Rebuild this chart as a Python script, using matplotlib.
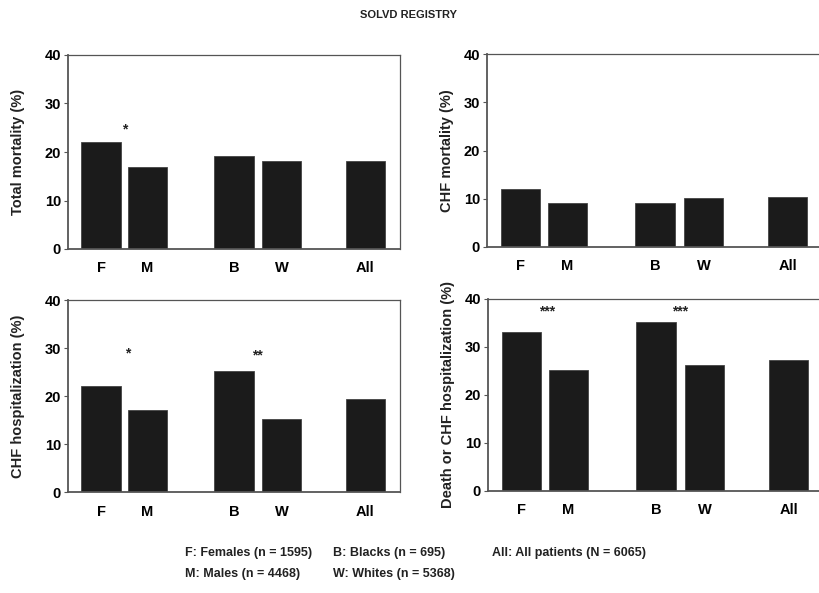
import numpy as np
import matplotlib.pyplot as plt

plt.rcParams['font.family'] = ['Liberation Sans', 'DejaVu Sans']
plt.rcParams['font.weight'] = 'bold'

# ==========================================
# DATA
# ==========================================
groups = ['F', 'M', 'B', 'W', 'All']
total_mortality = [22, 17, 19.1, 18.1, 18.1]
chf_mortality = [12.0, 9.1, 9.1, 10.2, 10.3]
chf_hosp = [22.0, 17.1, 25.3, 15.2, 19.4]
death_or_hosp = [33.1, 25.2, 35.2, 26.2, 27.2]

panel_labels = ['Total mortality (%)', 'CHF mortality (%)',
                'CHF hospitalization (%)', 'Death or CHF hospitalization (%)']
panel_values = [total_mortality, chf_mortality, chf_hosp, death_or_hosp]

# significance marks: (panel index, x position, y value, text)
sig_marks = [
    (0, 0.52, 24.6, '*'),
    (2, 0.58, 28.8, '*'),
    (2, 3.37, 28.4, '**'),
    (3, 0.55, 37.5, '***'),
    (3, 3.38, 37.5, '***'),
]

legend_rows = [
    ['F: Females (n = 1595)', 'B: Blacks (n = 695)', 'All: All patients (N = 6065)'],
    ['M: Males (n = 4468)', 'W: Whites (n = 5368)', ''],
]

# ==========================================
# LAYOUT
# ==========================================
W, H = 819, 593
fig = plt.figure(figsize=(W / 100, H / 100), dpi=100)

pos = np.array([0, 1, 2.86, 3.89, 5.68])
bar_w = 0.84

# axes boxes in pixels: left, top, right, bottom
boxes = [(68, 55, 400, 249), (487, 54, 823, 247),
         (68, 300, 400, 492), (488, 299, 824, 491)]
label_x = [18, 447, 18, 448]

bar_color = '#1b1b1b'
spine_color = '#555555'

for i, (l, t, r, b) in enumerate(boxes):
    ax = fig.add_axes([l / W, 1 - b / H, (r - l) / W, (b - t) / H])
    ax.bar(pos, panel_values[i], width=bar_w, color=bar_color,
           edgecolor='#444444', linewidth=0.6)
    ax.set_xlim(-0.71, 6.43)
    ax.set_ylim(0, 40)
    ax.set_yticks([0, 10, 20, 30, 40])
    ax.set_xticks(pos)
    ax.set_xticklabels(groups, fontsize=10.5, fontweight='bold')
    ax.tick_params(axis='x', length=0, pad=9)
    ax.tick_params(axis='y', length=3, width=0.8, labelsize=10.5,
                   color=spine_color, pad=2)
    for lab in ax.get_yticklabels():
        lab.set_fontweight('bold')
    for sp in ax.spines.values():
        sp.set_color(spine_color)
        sp.set_linewidth(0.9)
    ax.spines['bottom'].set_linewidth(1.3)
    ax.spines['left'].set_linewidth(1.3)
    fig.text(label_x[i] / W, 1 - ((t + b) / 2) / H, panel_labels[i],
             rotation=90, ha='center', va='center', fontsize=10.5,
             fontweight='bold', color='#222222')
    for (pi, x, y, s) in sig_marks:
        if pi == i:
            ax.text(x, y, s, ha='center', va='center', fontsize=10,
                    fontweight='bold', color='#222222')

fig.text(409 / W, 1 - 15 / H, 'SOLVD REGISTRY', ha='center', va='center',
         fontsize=8, fontweight='bold', color='#222222')

col_x = [185, 333, 492]
row_y = [553, 574]
for r, row in enumerate(legend_rows):
    for c, txt in enumerate(row):
        if txt:
            fig.text(col_x[c] / W, 1 - row_y[r] / H, txt, ha='left',
                     va='center', fontsize=9, fontweight='bold',
                     color='#222222')

fig.savefig('out.png', dpi=100)
